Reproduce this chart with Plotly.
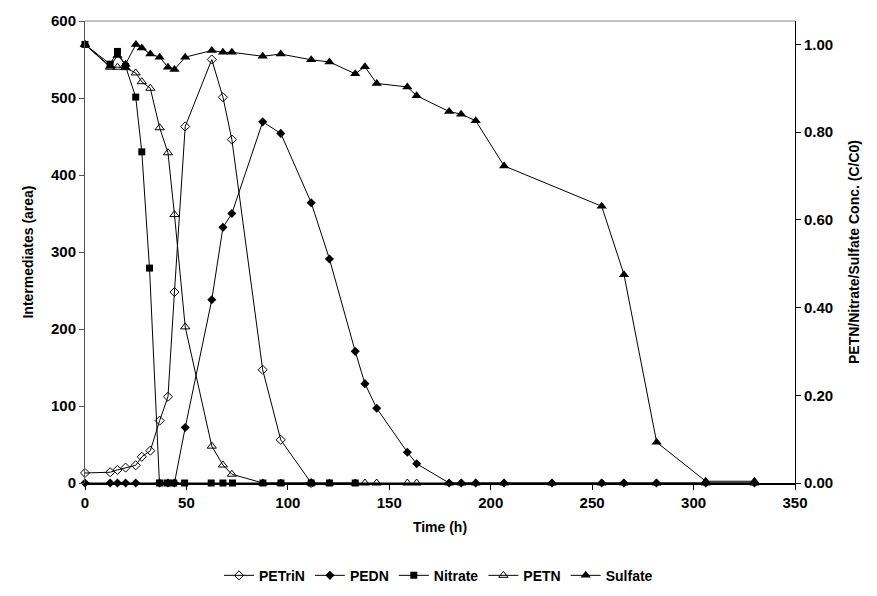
import plotly.graph_objects as go

# ---- data ----
petrin_t = [0, 12.4, 16, 20, 25, 28, 32.2, 36.8, 40.9, 44.1, 49.4, 62.5, 68, 72.4, 87.6, 96.5, 111.5]
petrin_v = [13, 14, 17, 20, 23, 34, 42, 81, 112, 248, 463, 550, 501, 446, 147, 56, 0]

pedn_t = [0, 12.4, 16, 20, 25, 36.8, 40.9, 44.1, 49.4, 62.5, 68, 72.4, 87.6, 96.5, 111.5, 120.5,
          133.2, 138, 143.8, 158.9, 163.5, 179.5, 185.5, 192.6, 206.6, 230.2, 254.7, 265.6, 281.7, 306, 330]
pedn_v = [0, 0, 0, 0, 0, 0, 0, 0, 72, 238, 332, 350, 469, 454, 364, 291,
          171, 129, 97, 40, 25, 0, 0, 0, 0, 0, 0, 0, 0, 0, 0]

nitrate_t = [0, 12.4, 16, 20, 25, 28, 31.8, 36.7, 40.4, 43.7, 49.1, 62.2, 68, 72.7, 87.7, 96.6, 111.5, 120.5, 133.2]
nitrate_c = [1.0, 0.955, 0.984, 0.95, 0.88, 0.755, 0.49, 0, 0, 0, 0, 0, 0, 0, 0, 0, 0, 0, 0]

petn_t = [0, 12.4, 16, 20, 25, 28, 32.2, 36.8, 40.9, 44.1, 49.4, 62.5, 68, 72.4, 87.7, 96.5, 111.5,
          120.5, 133.2, 138, 143.8, 158.9, 163.5, 179.5, 185.5, 192.6, 206.6, 230.2, 254.7, 265.6, 281.7, 306, 330]
petn_c = [1.0, 0.948, 0.948, 0.947, 0.935, 0.915, 0.90, 0.81, 0.753, 0.612, 0.356, 0.084, 0.041, 0.020, 0, 0, 0,
          0, 0, 0, 0, 0, 0, 0, 0, 0, 0, 0, 0, 0, 0, 0, 0]

sulfate_t = [0, 12.4, 16, 20, 25.1, 28, 32.2, 36.8, 40.9, 44.1, 49.4, 62.5, 68, 72.4, 87.6, 96.5, 111.5,
             120.5, 133.2, 138, 143.8, 158.9, 163.5, 179.5, 185.4, 192.6, 206.6, 254.7, 265.7, 281.8, 306, 330]
sulfate_c = [1.0, 0.95, 0.975, 0.955, 1.0, 0.992, 0.978, 0.971, 0.948, 0.943, 0.971, 0.986, 0.982, 0.982, 0.973, 0.978, 0.965,
             0.960, 0.933, 0.949, 0.911, 0.903, 0.883, 0.847, 0.841, 0.826, 0.723, 0.631, 0.475, 0.093, 0.004, 0.004]

x_ticks = [0, 50, 100, 150, 200, 250, 300, 350]
left_ticks = [0, 100, 200, 300, 400, 500, 600]
right_ticks = [0, 0.2, 0.4, 0.6, 0.8, 1.0]

FONT = "Liberation Sans, Arial, sans-serif"
line = dict(color="black", width=1)

fig = go.Figure()
fig.add_trace(go.Scatter(x=petrin_t, y=petrin_v, name="PETriN", mode="lines+markers", line=line,
                         marker=dict(symbol="diamond-open", size=7, color="black", line=dict(width=1)),
                         cliponaxis=False))
fig.add_trace(go.Scatter(x=pedn_t, y=pedn_v, name="PEDN", mode="lines+markers", line=line,
                         marker=dict(symbol="diamond", size=7, color="black"), cliponaxis=False))
fig.add_trace(go.Scatter(x=nitrate_t, y=nitrate_c, name="Nitrate", mode="lines+markers", line=line, yaxis="y2",
                         marker=dict(symbol="square", size=7, color="black"), cliponaxis=False))
fig.add_trace(go.Scatter(x=petn_t, y=petn_c, name="PETN", mode="lines+markers", line=line, yaxis="y2",
                         marker=dict(symbol="triangle-up-open", size=8, color="black", line=dict(width=1)),
                         cliponaxis=False))
fig.add_trace(go.Scatter(x=sulfate_t, y=sulfate_c, name="Sulfate", mode="lines+markers", line=line, yaxis="y2",
                         marker=dict(symbol="triangle-up", size=9, color="black"), cliponaxis=False))

tickfont = dict(family=FONT, size=15, color="black", weight="bold")
titlefont = dict(family=FONT, size=14, color="black", weight="bold")

fig.update_layout(
    width=877, height=596,
    margin=dict(l=85, r=82, t=16, b=113),
    paper_bgcolor="white", plot_bgcolor="white",
    font=dict(family=FONT, color="black"),
    showlegend=True,
    legend=dict(orientation="h", xref="container", yref="container", x=0.5, xanchor="center",
                y=0.034, yanchor="middle", font=dict(family=FONT, size=14, color="black", weight="bold"),
                itemwidth=30, tracegroupgap=0),
    xaxis=dict(range=[0, 350], tickvals=x_ticks, ticks="outside", ticklen=5, tickcolor="black",
               showline=True, linecolor="black", linewidth=1.5, showgrid=False, zeroline=False,
               tickfont=tickfont, title=dict(text="Time (h)", font=titlefont, standoff=12)),
    yaxis=dict(range=[0, 600], tickvals=left_ticks, ticks="outside", ticklen=5, tickcolor="#555",
               showline=True, linecolor="#555", linewidth=1, showgrid=False, zeroline=False,
               tickfont=tickfont, title=dict(text="Intermediates (area)", font=titlefont, standoff=14)),
    yaxis2=dict(range=[0, 1.0534], tickvals=right_ticks, tickformat=".2f", overlaying="y", side="right",
                ticks="outside", ticklen=5, tickcolor="black",
                showline=True, linecolor="black", linewidth=1, showgrid=False, zeroline=False,
                tickfont=tickfont, title=dict(text="PETN/Nitrate/Sulfate Conc. (C/C0)", font=titlefont, standoff=16)),
)
fig.add_shape(type="line", xref="paper", yref="paper", x0=0, x1=1, y0=1, y1=1,
              line=dict(color="#888", width=1))

fig.write_html("out.html")
